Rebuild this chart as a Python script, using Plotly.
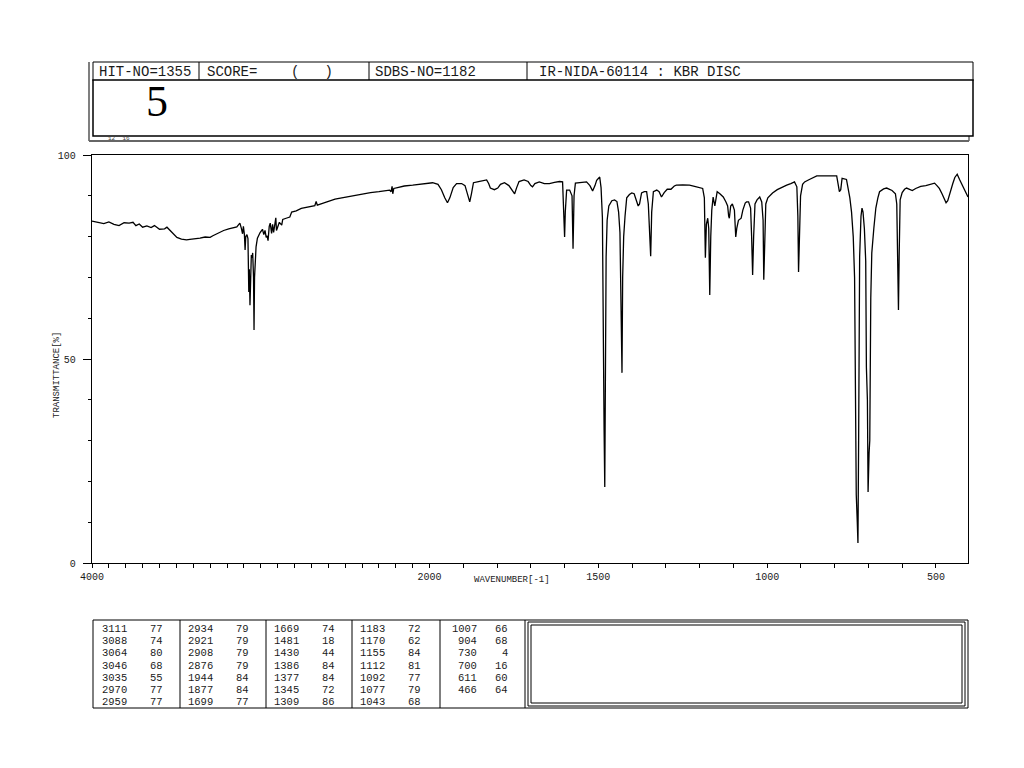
import plotly.graph_objects as go

# ---------------- data ----------------
WN = [4000, 3960, 3930, 3900, 3870, 3840, 3810, 3780, 3757, 3740, 3720, 3700, 3675, 3650, 3630, 3600,
      3570, 3556, 3530, 3510, 3497, 3470, 3440, 3420, 3390, 3360, 3330, 3300, 3284, 3250, 3220, 3190,
      3160, 3142, 3130, 3124, 3115, 3108, 3103, 3097, 3093, 3089, 3082, 3076, 3071, 3068, 3064, 3060,
      3056, 3052, 3048, 3043, 3040, 3037, 3033, 3028, 3020, 3012, 3004, 2990, 2982, 2975, 2968, 2962,
      2957, 2950, 2944, 2936, 2930, 2924, 2917, 2911, 2907, 2900, 2890, 2876, 2870, 2850, 2828, 2817,
      2790, 2760, 2730, 2700, 2680, 2672, 2665, 2630, 2600, 2560, 2520, 2480, 2432, 2400, 2350, 2300,
      2260, 2237, 2228, 2222, 2218, 2212, 2190, 2150, 2100, 2050, 2010, 1991, 1975, 1965, 1955, 1947,
      1940, 1930, 1920, 1905, 1895, 1888, 1881, 1876, 1870, 1855, 1840, 1831, 1825, 1820, 1808, 1798,
      1790, 1778, 1765, 1755, 1748, 1742, 1735, 1720, 1708, 1700, 1695, 1688, 1675, 1660, 1645, 1630,
      1615, 1606, 1603, 1600, 1598, 1594, 1585, 1578, 1575, 1572, 1568, 1550, 1535, 1525, 1517, 1510,
      1505, 1496, 1492, 1488, 1485, 1483, 1481, 1479, 1477, 1474, 1469, 1460, 1452, 1445, 1440, 1436,
      1433, 1430, 1428, 1425, 1421, 1416, 1408, 1401, 1394, 1387, 1382, 1378, 1372, 1364, 1357, 1352,
      1348, 1345, 1342, 1337, 1327, 1320, 1313, 1305, 1296, 1285, 1275, 1269, 1250, 1230, 1215, 1200,
      1191, 1186, 1183, 1180, 1176, 1173, 1170, 1167, 1164, 1160, 1155, 1152, 1148, 1140, 1130, 1122,
      1117, 1114, 1112, 1108, 1103, 1097, 1093, 1090, 1085, 1077, 1072, 1065, 1061, 1055, 1049, 1046,
      1043, 1040, 1036, 1030, 1022, 1016, 1012, 1010, 1007, 1004, 998, 984, 970, 955, 942, 930,
      919, 912, 909, 907, 904, 901, 895, 889, 875, 853, 830, 810, 794, 789, 786, 782,
      778, 765, 760, 755, 750, 745, 741, 738, 736, 733, 731, 729, 726, 722, 719, 716,
      712, 708, 706, 703, 701, 698, 696, 693, 690, 684, 678, 672, 667, 655, 646, 630,
      620, 616, 613, 611, 609, 606, 600, 593, 587, 578, 570, 560, 545, 530, 515, 504,
      497, 490, 482, 475, 470, 465, 458, 450, 444, 437, 430, 422, 413, 405]
TR = [83.8, 83.5, 83.2, 83.6, 83.0, 82.7, 83.4, 83.3, 83.5, 82.7, 83.1, 82.3, 82.6, 82.2, 82.7, 81.8,
      81.9, 82.3, 81.2, 80.2, 79.8, 79.4, 79.2, 79.3, 79.4, 79.6, 79.9, 79.8, 80.2, 80.9, 81.5, 81.9,
      82.3, 82.4, 83.0, 83.3, 82.0, 80.7, 82.5, 80.5, 76.7, 80.0, 80.5, 79.5, 66.4, 72.0, 63.2, 74.0,
      75.5, 74.8, 76.0, 70.0, 57.1, 70.0, 75.5, 77.5, 79.6, 80.4, 81.0, 81.8, 80.5, 81.5, 79.8, 80.2,
      79.0, 82.5, 83.3, 80.8, 83.0, 81.0, 83.6, 84.6, 81.5, 82.5, 83.5, 82.8, 84.2, 84.5, 84.8, 86.0,
      86.3, 86.9, 87.2, 87.5, 87.6, 88.6, 87.7, 88.2, 88.7, 89.2, 89.5, 89.8, 90.2, 90.5, 90.8, 91.0,
      91.3, 91.4, 91.0, 92.3, 90.5, 91.8, 92.0, 92.4, 92.6, 92.9, 93.1, 93.2, 92.8, 91.5, 89.5, 88.3,
      89.5, 92.0, 93.0, 93.0, 92.5, 90.5, 88.5, 90.5, 93.2, 93.5, 93.8, 93.9, 93.0, 91.9, 91.5, 91.9,
      92.8, 93.2, 92.5, 91.2, 90.5, 92.0, 93.5, 93.9, 93.5, 92.5, 92.2, 93.0, 93.4, 93.0, 93.0, 93.3,
      93.5, 93.4, 85.0, 79.9, 86.0, 91.4, 91.4, 90.0, 77.0, 90.0, 93.1, 93.2, 93.4, 92.5, 91.2, 92.5,
      93.8, 94.6, 92.0, 84.6, 40.0, 32.6, 18.6, 50.0, 75.0, 84.0, 87.5, 88.8, 89.0, 88.6, 86.0, 81.0,
      66.0, 46.6, 70.0, 80.0, 85.0, 89.5, 90.3, 90.7, 90.5, 88.5, 87.5, 88.0, 90.7, 91.0, 91.0, 88.0,
      82.0, 75.2, 86.0, 91.0, 91.4, 91.0, 89.7, 90.8, 91.6, 91.6, 92.4, 92.6, 92.7, 92.6, 92.3, 92.0,
      91.8, 89.5, 74.8, 83.0, 84.5, 82.0, 65.7, 80.0, 86.5, 89.7, 87.5, 89.0, 91.0, 90.5, 89.7, 88.5,
      87.5, 85.0, 84.5, 87.5, 88.0, 86.5, 79.9, 82.0, 84.0, 84.5, 86.5, 88.2, 88.5, 88.5, 87.0, 80.0,
      70.6, 80.0, 88.0, 89.0, 89.7, 88.5, 84.0, 69.4, 80.0, 88.0, 89.5, 90.7, 91.5, 92.2, 92.6, 93.0,
      93.4, 92.2, 85.0, 71.3, 80.0, 90.0, 92.8, 93.4, 94.0, 94.9, 94.9, 94.9, 94.9, 92.5, 91.0, 91.5,
      94.3, 94.0, 92.0, 89.5, 86.0, 80.0, 70.0, 25.0, 16.7, 10.0, 4.9, 30.0, 75.0, 85.0, 87.0, 86.0,
      82.0, 74.0, 48.0, 40.0, 17.4, 27.0, 30.0, 65.0, 76.0, 82.0, 87.0, 89.5, 91.0, 91.7, 91.9, 91.3,
      90.5, 88.0, 70.0, 62.0, 75.0, 89.0, 90.8, 91.6, 91.9, 91.5, 91.3, 91.8, 92.3, 92.5, 92.8, 93.1,
      92.5, 91.8, 90.5, 89.0, 88.3, 88.8, 91.0, 93.0, 94.5, 95.3, 94.0, 92.5, 90.8, 89.7]

PEAK_WN = ["3111", "3088", "3064", "3046", "3035", "2970", "2959",
           "2934", "2921", "2908", "2876", "1944", "1877", "1699",
           "1669", "1481", "1430", "1386", "1377", "1345", "1309",
           "1183", "1170", "1155", "1112", "1092", "1077", "1043",
           "1007", "904", "730", "700", "611", "466"]
PEAK_T = ["77", "74", "80", "68", "55", "77", "77",
          "79", "79", "79", "79", "84", "84", "77",
          "74", "18", "44", "84", "84", "72", "86",
          "72", "62", "84", "81", "77", "79", "68",
          "66", "68", "4", "16", "60", "64"]

X_LABELS = [4000, 2000, 1500, 1000, 500]
Y_LABELS = [0, 50, 100]

HEADER = ["HIT-NO=1355", "SCORE=    (   )", "SDBS-NO=1182", "IR-NIDA-60114 : KBR DISC"]


# x axis: 4000-2000 drawn at half the scale of 2000-400
def tx(w):
    return w if w <= 2000 else 2000 + (w - 2000) / 2.0


# ------------- pixel layout helpers (page pixels; figure sits 8px in) -------------
OFF = 8
W, H = 1024, 768
L, R, T, B = 92, 968, 155, 563


def px(x):
    return (x - L) / (R - L)


def py(y):
    return (B - y) / (B - T)


MONO = "Liberation Mono"
INK = "#1a1a1a"

fig = go.Figure()
fig.add_trace(go.Scatter(x=[tx(w) for w in WN], y=TR, mode="lines",
                         line=dict(color="black", width=1.3), hoverinfo="skip"))

tick_w = list(range(4000, 400, -100))
fig.update_xaxes(range=[tx(4000), tx(405)], tickmode="array",
                 tickvals=[tx(w) for w in tick_w],
                 ticktext=[str(w) if w in X_LABELS else "" for w in tick_w],
                 ticks="outside", ticklen=4, tickcolor="black", tickwidth=1,
                 showline=True, linecolor="black", linewidth=1.3, mirror=True,
                 showgrid=False, zeroline=False,
                 tickfont=dict(family=MONO, size=10, color=INK))
fig.update_yaxes(range=[0, 100], tickmode="array", tickvals=Y_LABELS,
                 ticktext=[str(v) for v in Y_LABELS],
                 ticks="outside", ticklen=8, tickcolor="black", tickwidth=1,
                 ticklabelstandoff=5,
                 minor=dict(dtick=10, tick0=0, ticks="outside", ticklen=3, tickcolor="black"),
                 showline=True, linecolor="black", linewidth=1.3, mirror=True,
                 showgrid=False, zeroline=False,
                 tickfont=dict(family=MONO, size=10, color=INK))

shapes = []
ann = []


def rect(x0, y0, x1, y1, color="black", width=1, fill=None):
    shapes.append(dict(type="rect", xref="paper", yref="paper",
                       x0=px(x0), x1=px(x1), y0=py(y0), y1=py(y1),
                       line=dict(color=color, width=width),
                       fillcolor=fill if fill else "rgba(0,0,0,0)"))


def line(x0, y0, x1, y1, color="black", width=1):
    shapes.append(dict(type="line", xref="paper", yref="paper",
                       x0=px(x0), x1=px(x1), y0=py(y0), y1=py(y1),
                       line=dict(color=color, width=width)))


def text(s, x, y, size=10, anchor="left", family=MONO, color=INK, angle=0, height=None):
    a = dict(text=s, xref="paper", yref="paper", x=px(x), y=py(y),
             xanchor=anchor, yanchor="middle", showarrow=False,
             textangle=angle, font=dict(family=family, size=size, color=color))
    if height:
        a["height"] = height
    ann.append(a)


# ---- header ----
line(89, 62, 89, 141, color="#555", width=1.5)
line(89, 141, 969, 141, color="#666", width=2)
line(969, 136, 969, 141, color="#666", width=1.5)
rect(93, 62, 973, 81)
for xd in (199, 369, 527):
    line(xd, 62, xd, 81)
text(HEADER[0], 97, 71.5, size=14)
text(HEADER[1], 205, 71.5, size=14)
text(HEADER[2], 373, 71.5, size=14)
text(HEADER[3], 537, 71.5, size=14)
rect(93, 80, 973, 136, color="black", width=1.5, fill="white")
text("5", 157, 100.5, size=44, anchor="center", family="Liberation Serif", color="black", height=36)
text("12  16", 106, 139, size=6, color="#444")

# ---- axis titles ----
text("TRANSMITTANCE[%]", 57, 375, size=9, anchor="center", angle=-90)
text("WAVENUMBER[-1]", 512, 580, size=9, anchor="center")

# ---- peak table ----
rect(93, 620, 968, 708)
for xd in (180, 266, 352, 440, 525):
    line(xd, 620, xd, 708)
rect(528, 622, 965, 706)
rect(531, 625, 962, 703)
wn_right = [129, 215, 301, 387, 479]
t_right = [165, 251, 337, 423, 510]
for i, (w, t) in enumerate(zip(PEAK_WN, PEAK_T)):
    c, r = divmod(i, 7)
    yy = 629 + r * 12.2
    text(w, wn_right[c], yy, size=10.5, anchor="right")
    text(t, t_right[c], yy, size=10.5, anchor="right")

fig.update_layout(width=W, height=H, autosize=False,
                  margin=dict(l=L - OFF, r=W - (R - OFF), t=T - OFF, b=H - (B - OFF)),
                  plot_bgcolor="white", paper_bgcolor="white",
                  showlegend=False, shapes=shapes, annotations=ann)

fig.write_html("out.html")
